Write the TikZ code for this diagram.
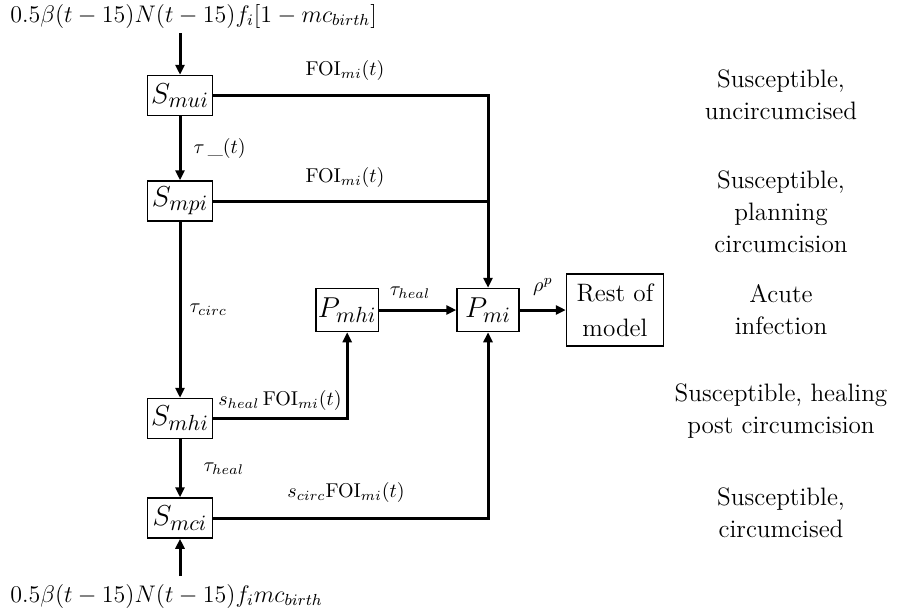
\documentclass[tikz,border=0pt]{standalone}
\usepackage{tikz}
\usetikzlibrary{positioning,arrows.meta}

\begin{document}
\begin{tikzpicture}[x=0.5pt,y=-0.5pt,
                  comp/.style={draw,line width=0.75pt,minimum width=32.5pt,minimum height=20pt,inner sep=1pt,font=\fontsize{15}{18}\selectfont},
                  inf/.style={comp,minimum width=31pt,minimum height=21.5pt},
                  desc/.style={align=center,inner sep=0pt,font=\fontsize{12.6}{16}\selectfont},
                  rate/.style={inner sep=0pt,font=\normalsize},
                  birth/.style={inner sep=0pt,font=\fontsize{11.5}{14}\selectfont},
                  arr/.style={-{Triangle[length=5pt,width=4.5pt]},line width=1.5pt},
                  ln/.style={line width=1.5pt}
                ]
                \useasboundingbox (0,0) rectangle (897,611);
                % susceptible column
                \node[comp] (smui) at (180,95.5) {$S_{mui}$};
                \node[comp,below=32pt of smui] (smpi) {$S_{mpi}$};
                \node[comp,below=88pt of smpi] (smhi) {$S_{mhi}$};
                \node[comp,below=29pt of smhi] (smci) {$S_{mci}$};
                % infected
                \node[inf] (pmi) at (488,310) {$P_{mi}$};
                \node[inf,left=38.5pt of pmi] (pmhi) {$P_{mhi}$};
                \node[draw,line width=0.75pt,align=center,minimum width=48.5pt,minimum height=36pt,inner sep=1pt,
                      font=\fontsize{12.6}{17.5}\selectfont,right=23pt of pmi] (rest) {Rest of\\model};
                % births
                \node[birth,anchor=west] (bnew) at (10,16) {$0.5\beta(t-15)N(t-15)f_i[1-mc_{birth}]$};
                \node[birth,anchor=west] (bcirc) at (10,596) {$0.5\beta(t-15)N(t-15)f_imc_{birth}$};
                \coordinate (intop) at (180,33);
                \coordinate (inbot) at (180,576);
                
                \draw[arr] (intop) -- (smui);
                \draw[arr] (inbot) -- (smci);
                \draw[arr] (smui) -- node[rate,anchor=west,xshift=6pt] {$\tau\,\_(t)$} (smpi);
                \draw[arr] (smpi) -- node[rate,anchor=west,xshift=4pt] {$\tau_{circ}$} (smhi);
                \draw[arr] (smhi) -- node[rate,anchor=west,xshift=11pt] {$\tau_{heal}$} (smci);
                
                \draw[arr] (smui.east) -| (pmi.north);
                \draw[ln] (smpi.east) -- (smpi.east -| pmi.north);
                \draw[arr] (smhi.east) -| (pmhi.south);
                \draw[arr] (smci.east) -| (pmi.south);
                \draw[arr] (pmhi) -- (pmi);
                \draw[arr] (pmi) -- (rest);
                
                \node[rate] (foia) at (345,70) {$\mathrm{FOI}_{mi}(t)$};
                \node[rate] (foib) at (345,177) {$\mathrm{FOI}_{mi}(t)$};
                \node[rate] (foic) at (280,400) {$s_{heal}\,\mathrm{FOI}_{mi}(t)$};
                \node[rate] (foid) at (346,492) {$s_{circ}\mathrm{FOI}_{mi}(t)$};
                \node[rate] (heal) at (410,293) {$\tau_{heal}$};
                \node[rate] (prog) at (543,287) {$\rho^{p}$};
                
                % state descriptions
                \node[desc] (dmui) at (781,95) {Susceptible,\\uncircumcised};
                \node[desc] (dmpi) at (781,212) {Susceptible,\\planning\\circumcision};
                \node[desc] (dpmi) at (781,310) {Acute\\infection};
                \node[desc] (dmhi) at (781,411) {Susceptible, healing\\post circumcision};
                \node[desc] (dmci) at (781,513) {Susceptible,\\circumcised};
                \end{tikzpicture}
\end{document}
